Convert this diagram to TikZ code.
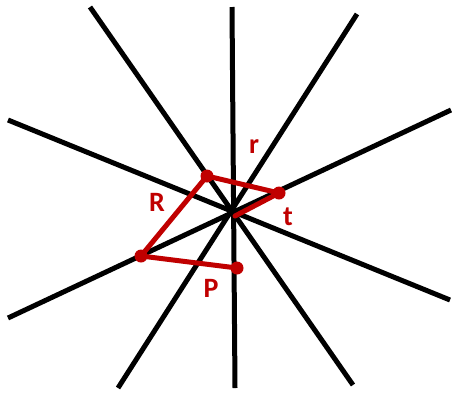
\documentclass[tikz,border=0pt]{standalone}
\usepackage{fontspec}
\setmainfont{Carlito}
\definecolor{darkred}{RGB}{192,0,0}
\tikzset{
  ray/.style={black, line width=5pt},
  poly/.style={darkred, line width=5pt, line join=round, line cap=round},
  dot/.style={circle, fill=darkred, inner sep=0pt, minimum size=13pt},
  lbl/.style={text=darkred, font=\fontsize{28}{28}\selectfont\bfseries, inner sep=0pt}
}
\begin{document}
\begin{tikzpicture}[x=1pt, y=-1pt]
\useasboundingbox (0,0) rectangle (452,392);
% ray end points
\coordinate (v1) at (232,7);   \coordinate (v2) at (235,388);
\coordinate (a1) at (90,7);    \coordinate (a2) at (353,385);
\coordinate (b1) at (357,14);  \coordinate (b2) at (118,388);
\coordinate (c1) at (8,120);   \coordinate (c2) at (450,300);
\coordinate (d1) at (451,110); \coordinate (d2) at (8,318);
\draw[ray] (v1) -- (v2);
\draw[ray] (a1) -- (a2);
\draw[ray] (b1) -- (b2);
\draw[ray] (c1) -- (c2);
\draw[ray] (d1) -- (d2);
% red polygon
\coordinate (q1) at (237,268);
\coordinate (q2) at (141,256);
\coordinate (q3) at (207,176);
\coordinate (q4) at (279,193);
\coordinate (q5) at (235,216);
\draw[poly] (q1) -- (q2) -- (q3) -- (q4) -- (q5);
\node[dot] (n1) at (q1) {};
\node[dot] (n2) at (q2) {};
\node[dot] (n3) at (q3) {};
\node[dot] (n4) at (q4) {};
% labels
\node[lbl] (lr) at (254,147) {r};
\node[lbl] (lR) at (157,202) {R};
\node[lbl] (lt) at (288,217) {t};
\node[lbl] (lP) at (211,288) {P};
\end{tikzpicture}
\end{document}
